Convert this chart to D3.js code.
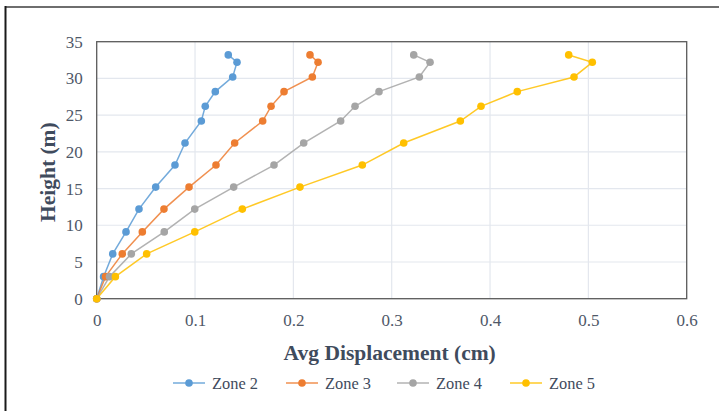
<!DOCTYPE html>
<html>
<head>
<meta charset="utf-8">
<script src="https://cdn.jsdelivr.net/npm/d3@7"></script>
<style>
  html, body { margin: 0; padding: 0; background: #fff; }
  svg { display: block; }
  text { font-family: "Liberation Serif", "Times New Roman", serif; }
</style>
</head>
<body>
<div id="chart"></div>
<script>
// ---- data ----
const heights = [0, 3, 6.1, 9.1, 12.2, 15.2, 18.2, 21.2, 24.2, 26.2, 28.2, 30.2, 32.2, 33.2];
const zone2 = [0, 0.007, 0.0163, 0.0298, 0.043, 0.060, 0.0796, 0.0898, 0.1064, 0.1104, 0.1206, 0.1383, 0.1427, 0.1338];
const zone3 = [0, 0.009, 0.026, 0.0464, 0.0684, 0.0939, 0.1213, 0.1403, 0.1688, 0.1773, 0.1905, 0.2193, 0.2251, 0.2169];
const zone4 = [0, 0.013, 0.0352, 0.0687, 0.0997, 0.1393, 0.1803, 0.2105, 0.2481, 0.2627, 0.2871, 0.3281, 0.339, 0.3224];
const zone5 = [0, 0.019, 0.0508, 0.0997, 0.1481, 0.2067, 0.2701, 0.3122, 0.3698, 0.3908, 0.4277, 0.4854, 0.504, 0.48];
const seriesNames = ["Zone 2", "Zone 3", "Zone 4", "Zone 5"];
const seriesValues = [zone2, zone3, zone4, zone5];
const seriesColors = ["#5B9BD5", "#ED7D31", "#A5A5A5", "#FFC000"];
const xTicks = [0, 0.1, 0.2, 0.3, 0.4, 0.5, 0.6];
const yTicks = [0, 5, 10, 15, 20, 25, 30, 35];
const xTitle = "Avg Displacement (cm)";
const yTitle = "Height (m)";

// ---- layout ----
const W = 719, H = 411;
const plot = { left: 96.7, right: 686.7, top: 41.7, bottom: 298.7 };
const tickColor = "#4f5868";
const titleColor = "#3f4b5d";

const svg = d3.select("#chart").append("svg").attr("width", W).attr("height", H);

// outer frame (top + left edges visible)
svg.append("line").attr("x1", 5).attr("x2", W).attr("y1", 7).attr("y2", 7)
  .attr("stroke", "#6e6e6e").attr("stroke-width", 2);
svg.append("line").attr("x1", 5.5).attr("x2", 5.5).attr("y1", 6).attr("y2", H)
  .attr("stroke", "#1a1a1a").attr("stroke-width", 2);

const x = d3.scaleLinear().domain([0, 0.6]).range([plot.left, plot.right]);
const y = d3.scaleLinear().domain([0, 35]).range([plot.bottom, plot.top]);

// gridlines
const grid = svg.append("g");
grid.selectAll("line.h").data(yTicks.slice(1, -1)).join("line")
  .attr("x1", plot.left).attr("x2", plot.right)
  .attr("y1", d => y(d)).attr("y2", d => y(d))
  .attr("stroke", "#e3e7ee").attr("stroke-width", 1.2);
grid.selectAll("line.v").data(xTicks.slice(1, -1)).join("line")
  .attr("y1", plot.top).attr("y2", plot.bottom)
  .attr("x1", d => x(d)).attr("x2", d => x(d))
  .attr("stroke", "#e3e7ee").attr("stroke-width", 1.2);

// plot frame
svg.append("rect")
  .attr("x", plot.left).attr("y", plot.top)
  .attr("width", plot.right - plot.left).attr("height", plot.bottom - plot.top)
  .attr("fill", "none").attr("stroke", "#5a5a5a").attr("stroke-width", 1.3);

// axes (labels only; lines drawn by frame)
const xAxis = d3.axisBottom(x).tickValues(xTicks).tickSize(0).tickPadding(0)
  .tickFormat(d => d === 0 ? "0" : d3.format(".1f")(d));
const gx = svg.append("g").attr("transform", `translate(0,${plot.bottom})`).call(xAxis);
gx.select(".domain").remove();
gx.selectAll("text").attr("y", 22).attr("dy", "0.32em")
  .attr("font-size", 17).attr("fill", tickColor)
  .attr("font-family", "Liberation Serif, serif");

const yAxis = d3.axisLeft(y).tickValues(yTicks).tickSize(0).tickPadding(0);
const gy = svg.append("g").attr("transform", `translate(${plot.left},0)`).call(yAxis);
gy.select(".domain").remove();
gy.selectAll("text").attr("x", -14).attr("dy", "0.32em")
  .attr("font-size", 17).attr("fill", tickColor)
  .attr("font-family", "Liberation Serif, serif");

// axis titles
svg.append("text").attr("x", (plot.left + plot.right) / 2 - 2).attr("y", 360)
  .attr("text-anchor", "middle").attr("font-weight", "bold").attr("font-size", 21.5)
  .attr("fill", titleColor).text(xTitle);
svg.append("text")
  .attr("transform", `translate(55,${(plot.top + plot.bottom) / 2 + 2}) rotate(-90)`)
  .attr("text-anchor", "middle").attr("font-weight", "bold").attr("font-size", 21.5)
  .attr("fill", titleColor).text(yTitle);

// series
const line = d3.line().x(d => x(d.v)).y(d => y(d.h));
seriesValues.forEach((vals, i) => {
  const pts = vals.map((v, j) => ({ v, h: heights[j] }));
  const g = svg.append("g");
  g.append("path").datum(pts).attr("d", line)
    .attr("fill", "none").attr("stroke", seriesColors[i])
    .attr("stroke-width", 1.5).attr("stroke-opacity", 0.85);
});
seriesValues.forEach((vals, i) => {
  const pts = vals.map((v, j) => ({ v, h: heights[j] }));
  svg.append("g").selectAll("circle").data(pts).join("circle")
    .attr("cx", d => x(d.v)).attr("cy", d => y(d.h)).attr("r", 3.8)
    .attr("fill", seriesColors[i]);
});

// legend
const legendX = [173, 286, 397, 510];
const legendY = 383;
const lg = svg.append("g");
seriesNames.forEach((name, i) => {
  const x0 = legendX[i];
  lg.append("line").attr("x1", x0).attr("x2", x0 + 32).attr("y1", legendY).attr("y2", legendY)
    .attr("stroke", seriesColors[i]).attr("stroke-width", 1.5).attr("stroke-opacity", 0.85);
  lg.append("circle").attr("cx", x0 + 16).attr("cy", legendY).attr("r", 3.8).attr("fill", seriesColors[i]);
  lg.append("text").attr("x", x0 + 39).attr("y", legendY).attr("dy", "0.35em")
    .attr("font-size", 16.4).attr("fill", titleColor).text(name);
});
</script>
</body>
</html>
